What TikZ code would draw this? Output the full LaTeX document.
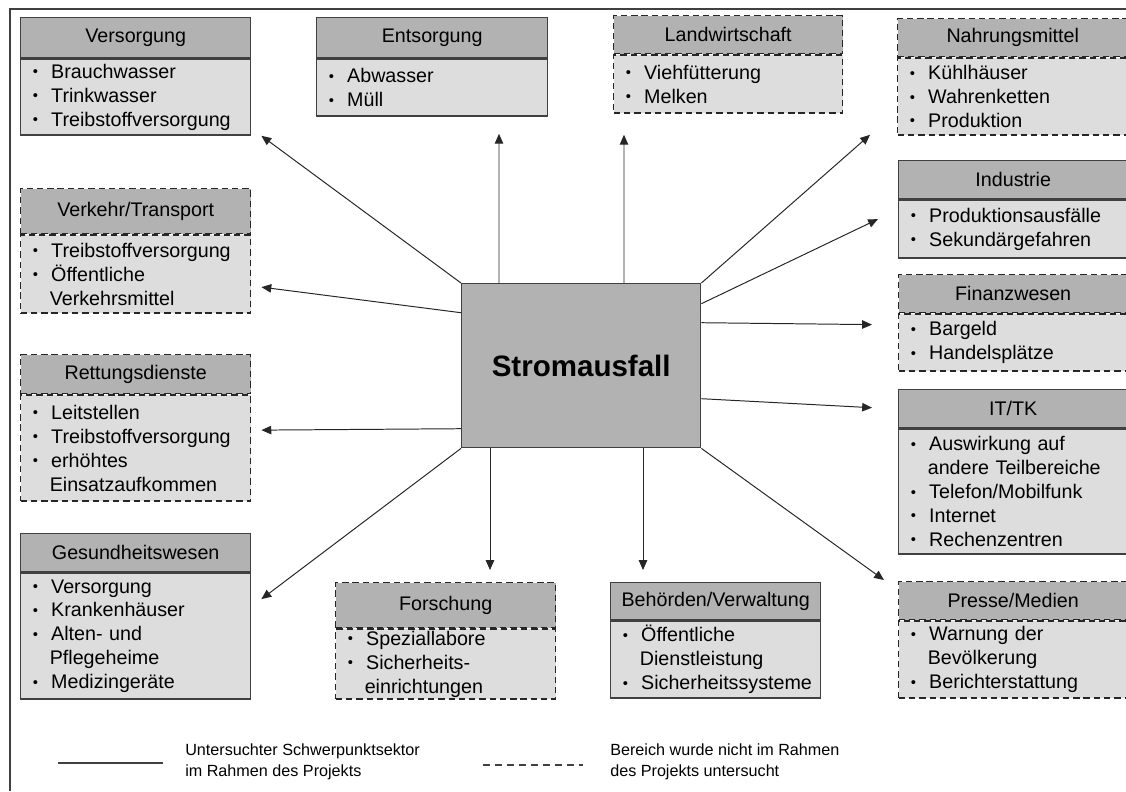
\documentclass[tikz,border=0pt]{standalone}
\usepackage{fontspec}
\setmainfont{Liberation Sans}
\usetikzlibrary{calc}
\usetikzlibrary{positioning}
\usetikzlibrary{arrows.meta}
\definecolor{edge}{HTML}{404040}
\definecolor{headgray}{HTML}{B2B2B2}
\definecolor{bodygray}{HTML}{DDDDDD}
\newcommand{\itemfont}{\fontsize{14}{17}\selectfont\hyphenpenalty=10000}
\newcommand{\bul}{\makebox[16pt][l]{\hspace{3pt}\raisebox{0.15ex}{\scalebox{0.75}{\textbullet}}}}
\newcommand{\ind}{\hspace*{15pt}}

\begin{document}
\begin{tikzpicture}[x=0.025cm,y=-0.025cm,
  head/.style 2 args={draw=edge, fill=headgray, line width=1pt, inner sep=0pt,
    anchor=north west, minimum width=#1*0.025cm, minimum height=#2*0.025cm, font=\itemfont},
  body/.style 2 args={draw=edge, fill=bodygray, line width=1pt, inner xsep=0.2cm, inner ysep=0pt,
    minimum height=#2*0.025cm, /utils/exec={\pgfmathsetlengthmacro\bodytw{(#1-16)*0.025cm}},
    text width=\bodytw, align=left, font=\itemfont},
  nostudy/.style={draw=black!85, dash pattern=on 4.5pt off 2.8pt},
  arr/.style={-{Triangle[length=7pt,width=6pt]}, line width=0.7pt, black!85},
  legend/.style={anchor=west, align=left, inner sep=0pt, font=\fontsize{11.5}{14.5}\selectfont}]
\useasboundingbox (0,0) rectangle (1126,791);
\draw[edge, line width=1.8pt] (10,791) -- (10,9) -- (1126,9);

% centre
\node[draw=edge, fill=headgray, line width=1pt, anchor=north west, minimum width=239*0.025cm,
  minimum height=164*0.025cm, font=\fontsize{21}{24}\selectfont\bfseries] (strom) at (461,283) {Stromausfall};

% left column
\node[head={230}{40}] (versH) at (20,17) {Versorgung};
\node[body={230}{76}, below=0pt of versH] (versB) {\bul Brauchwasser\\\bul Trinkwasser\\\bul Treibstoffversorgung};
\node[head={230}{45}, nostudy] (vtH) at (20,188) {Verkehr/Transport};
\node[body={230}{78}, nostudy, below=0pt of vtH] (vtB) {\bul Treibstoffversorgung\\\bul \"Offentliche\\\ind Verkehrsmittel};
\node[head={230}{39}, nostudy] (rdH) at (20,354) {Rettungsdienste};
\node[body={230}{106}, nostudy, below=0pt of rdH] (rdB) {\bul Leitstellen\\\bul Treibstoffversorgung\\\bul erh\"ohtes\\\ind Einsatzaufkommen};
\node[head={230}{38}] (gwH) at (20,533) {Gesundheitswesen};
\node[body={230}{126}, below=0pt of gwH] (gwB) {\bul Versorgung\\\bul Krankenh\"auser\\\bul Alten- und\\\ind Pflegeheime\\\bul Medizinger\"ate};

% top row
\node[head={231}{40}] (entH) at (316,17) {Entsorgung};
\node[body={231}{57}, below=0pt of entH] (entB) {\bul Abwasser\\\bul M\"ull};
\node[head={229}{38}, nostudy] (lwH) at (613,15) {Landwirtschaft};
\node[body={229}{58}, nostudy, below=0pt of lwH] (lwB) {\bul Viehf\"utterung\\\bul Melken};

% right column
\node[head={230}{38}, nostudy] (nmH) at (897,18) {Nahrungsmittel};
\node[body={230}{77}, nostudy, below=0pt of nmH] (nmB) {\bul K\"uhlh\"auser\\\bul Wahrenketten\\\bul Produktion};
\node[head={229}{38}] (indH) at (898,160) {Industrie};
\node[body={229}{58}, below=0pt of indH] (indB) {\bul Produktionsausf\"alle\\\bul Sekund\"argefahren};
\node[head={229}{38}, nostudy] (fwH) at (898,274) {Finanzwesen};
\node[body={229}{57}, nostudy, below=0pt of fwH] (fwB) {\bul Bargeld\\\bul Handelspl\"atze};
\node[head={229}{38}] (itH) at (898,389) {IT/TK};
\node[body={229}{125}, below=0pt of itH] (itB) {\bul Auswirkung auf\\\ind andere Teilbereiche\\\bul Telefon/Mobilfunk\\\bul Internet\\\bul Rechenzentren};
\node[head={229}{38}, nostudy] (pmH) at (898,581) {Presse/Medien};
\node[body={229}{77}, nostudy, below=0pt of pmH] (pmB) {\bul Warnung der\\\ind Bev\"olkerung\\\bul Berichterstattung};

% bottom row
\node[head={220}{45}, nostudy] (foH) at (335,582) {Forschung};
\node[body={220}{70}, nostudy, below=0pt of foH] (foB) {\bul Speziallabore\\\bul Sicherheits-\\\ind einrichtungen};
\node[head={210}{37}] (bvH) at (610,582) {Beh\"orden/Verwaltung};
\node[body={210}{77}, below=0pt of bvH] (bvB) {\bul \"Offentliche\\\ind Dienstleistung\\\bul Sicherheitssysteme};

% arrows
\draw[arr] (strom.north west) -- ($(versB.south east)+(10,0)$);
\draw[arr] ($(strom.west)+(0,-53)$) -- ($(vtB.east)+(10,13)$);
\draw[arr] ($(strom.west)+(0,63)$) -- ($(rdB.east)+(10,-18)$);
\draw[arr] (strom.south west) -- ($(gwB.east)+(10,-37)$);
\draw[arr] ($(strom.north west)+(38,0)$) -- ($(entB.south west)+(183,17)$);
\draw[arr] ($(strom.north west)+(163,0)$) -- ($(lwB.south west)+(11,21)$);
\draw[arr] (strom.north east) -- ($(nmB.south west)+(-27,-1)$);
\draw[arr] ($(strom.east)+(0,-62)$) -- ($(indB.west)+(-20,-10)$);
\draw[arr] ($(strom.east)+(0,-43)$) -- ($(fwB.west)+(-26,-18)$);
\draw[arr] ($(strom.east)+(0,33)$) -- ($(itH.west)+(-26,-1)$);
\draw[arr] (strom.south east) -- ($(pmH.north west)+(-14,-1)$);
\draw[arr] ($(strom.south west)+(29,0)$) -- ($(foH.north west)+(155,-12)$);
\draw[arr] ($(strom.south west)+(182,0)$) -- ($(bvH.north west)+(33,-12)$);

% legend
\draw[edge, line width=0.8pt] (58,763) -- (163,763);
\node[legend] (solidtxt) at (185,762) {Untersuchter Schwerpunktsektor\\im Rahmen des Projekts};
\draw[edge, line width=0.8pt, dash pattern=on 5pt off 3.5pt] (483,765) -- (583,765);
\node[legend] (dashtxt) at (610,762) {Bereich wurde nicht im Rahmen\\des Projekts untersucht};
\end{tikzpicture}
\end{document}
